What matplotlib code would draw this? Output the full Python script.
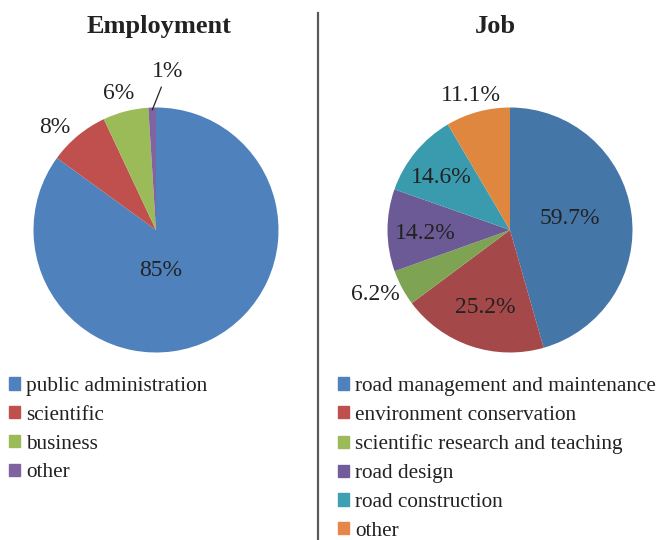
import matplotlib.pyplot as plt
import numpy as np
from matplotlib.patches import Patch
from matplotlib.lines import Line2D

plt.rcParams['font.family'] = ['Liberation Serif', 'DejaVu Serif']

# Employment data
emp_labels = ["public administration", "scientific", "business", "other"]
emp_values = [85, 8, 6, 1]

# Job data (printed values, pie normalises them)
job_labels = ["road management and maintenance", "environment conservation",
              "scientific research and teaching", "road design",
              "road construction", "other"]
job_values = [59.7, 25.2, 6.2, 14.2, 14.6, 11.1]

emp_colors = ['#4f81bd', '#c0504d', '#9bbb59', '#8064a2']
job_colors = ['#4576a8', '#a5484a', '#7ea453', '#6b5a95', '#3b9bae', '#e0873f']
job_legend_colors = ['#4f81bd', '#c0504d', '#9bbb59', '#735c9a', '#3f9fb3', '#e5864a']

# label placement: (radius factor, angle shift in degrees)
emp_label_pos = [(0.33, -20), (1.18, 5), (1.16, 1), (1.30, -6)]
job_label_pos = [(0.50, 3), (0.66, 1), (1.22, -2.5), (0.69, 2), (0.71, 2), (1.14, 1)]

text_color = '#222222'
W, H = 661, 540
fig = plt.figure(figsize=(W / 100, H / 100), dpi=100)


def draw_pie(rect, values, colors, fmt, label_pos, leader=None):
    ax = fig.add_axes(rect)
    wedges, _ = ax.pie(values, colors=colors, startangle=90, counterclock=False,
                       wedgeprops=dict(linewidth=0))
    ax.set_xlim(-1, 1)
    ax.set_ylim(-1, 1)
    ax.set_aspect('equal')
    for i, (w, v) in enumerate(zip(wedges, values)):
        mid = np.deg2rad((w.theta1 + w.theta2) / 2 + label_pos[i][1])
        r = label_pos[i][0]
        x, y = r * np.cos(mid), r * np.sin(mid)
        if leader is not None and i == leader:
            m0 = np.deg2rad((w.theta1 + w.theta2) / 2)
            ax.annotate(fmt.format(v), xy=(0.98 * np.cos(m0), 0.98 * np.sin(m0)),
                        xytext=(x, y), ha='center', va='center', fontsize=17,
                        color=text_color, annotation_clip=False,
                        arrowprops=dict(arrowstyle='-', color='#222222', lw=0.9,
                                        shrinkA=2, shrinkB=0))
        else:
            ax.text(x, y, fmt.format(v), ha='center', va='center',
                    fontsize=17, color=text_color)
    return ax


size_w, size_h = 245 / W, 245 / H
draw_pie([(156 - 122.5) / W, (H - 352.5) / H, size_w, size_h],
         emp_values, emp_colors, "{:.0f}%", emp_label_pos, leader=3)
draw_pie([(510 - 122.5) / W, (H - 352.5) / H, size_w, size_h],
         job_values, job_colors, "{:.1f}%", job_label_pos)

# titles
fig.text(159 / W, 1 - 33 / H, "Employment", ha='center', va='baseline',
         fontsize=19, fontweight='bold', color=text_color)
fig.text(495 / W, 1 - 33 / H, "Job", ha='center', va='baseline',
         fontsize=19, fontweight='bold', color=text_color)

# separator
fig.add_artist(Line2D([317.5 / W, 317.5 / W], [0, 1 - 13 / H],
                      color='#5a5a5a', lw=1.6, transform=fig.transFigure))

# legends
leg_kw = dict(loc='upper left', frameon=False, fontsize=15.3, handlelength=0.52,
              handleheight=0.52, handletextpad=0.3, labelspacing=0.46,
              borderpad=0, borderaxespad=0, labelcolor=text_color)
fig.legend([Patch(color=c) for c in emp_colors], emp_labels,
           bbox_to_anchor=(9 / W, 1 - 377 / H), **leg_kw)
fig.legend([Patch(color=c) for c in job_legend_colors], job_labels,
           bbox_to_anchor=(338 / W, 1 - 377 / H), **leg_kw)

plt.savefig("out.png", dpi=100)
